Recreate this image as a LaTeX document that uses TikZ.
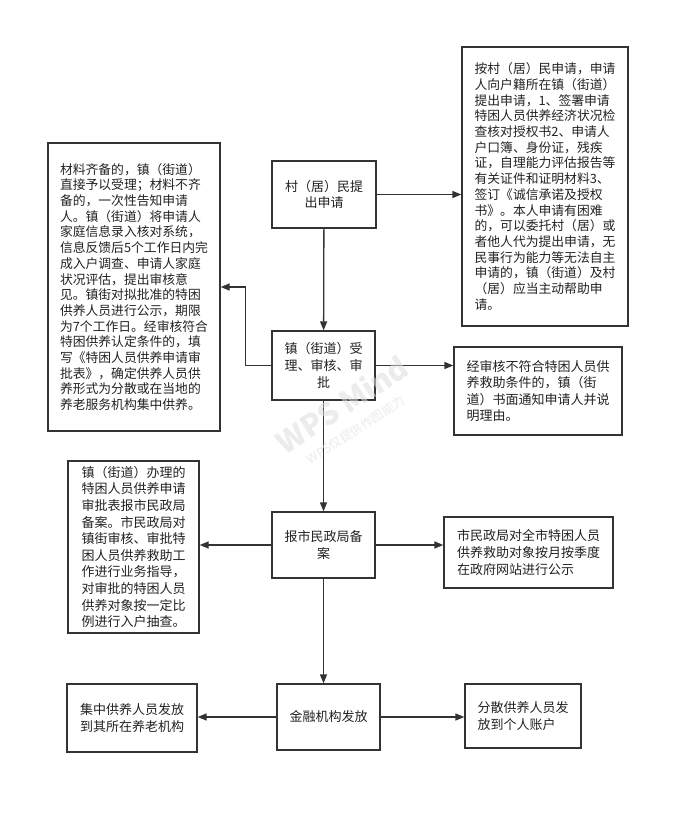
\documentclass[tikz,border=0pt]{standalone}
\usepackage{fontspec}
\setmainfont{Noto Sans CJK SC}
\usetikzlibrary{arrows.meta}
\definecolor{linec}{HTML}{333333}
\definecolor{txtc}{HTML}{222222}
\definecolor{wmc}{HTML}{DDDDDD}
\begin{document}
\begin{tikzpicture}[x=1pt,y=-1pt,
  box/.style={draw=linec,line width=1.3pt,fill=white,inner sep=0pt,text=txtc},
  big/.style={box,align=left,font=\fontsize{12.8pt}{15.7pt}\selectfont},
  mid/.style={box,align=left,font=\fontsize{13pt}{16.6pt}\selectfont},
  ctr/.style={box,align=center,font=\fontsize{13pt}{16.6pt}\selectfont},
  arr/.style={draw=linec,line width=1.3pt,-{Triangle[length=9pt,width=7pt]}},
  wm/.style={text=wmc,text opacity=0.55,rotate=33}]
\useasboundingbox (0,0) rectangle (688,821);
\fill[white] (0,0) rectangle (688,821);
% boxes
\node[ctr,minimum width=104pt,minimum height=67pt] (a) at (324,194.5) {村（居）民提\\出申请};
\node[big,minimum width=166pt,minimum height=279pt] (rt) at (545,186.5) {按村（居）民申请，申请\\人向户籍所在镇（街道）\\提出申请，1、签署申请\\特困人员供养经济状况检\\查核对授权书2、申请人\\户口簿、身份证，残疾\\证，自理能力评估报告等\\有关证件和证明材料3、\\签订《诚信承诺及授权\\书》。本人申请有困难\\的，可以委托村（居）或\\者他人代为提出申请，无\\民事行为能力等无法自主\\申请的，镇（街道）及村\\（居）应当主动帮助申\\请。};
\node[ctr,minimum width=103pt,minimum height=69pt] (b) at (323.5,365.5) {镇（街道）受\\理、审核、审\\批};
\node[big,minimum width=172pt,minimum height=288pt] (lt) at (134,287) {材料齐备的，镇（街道）\\直接予以受理；材料不齐\\备的，一次性告知申请\\人。镇（街道）将申请人\\家庭信息录入核对系统，\\信息反馈后5个工作日内完\\成入户调查、申请人家庭\\状况评估，提出审核意\\见。镇街对拟批准的特困\\供养人员进行公示，期限\\为7个工作日。经审核符合\\特困供养认定条件的，填\\写《特困人员供养申请审\\批表》，确定供养人员供\\养形式为分散或在当地的\\养老服务机构集中供养。};
\node[mid,minimum width=168pt,minimum height=88pt] (rm) at (538,391) {经审核不符合特困人员供\\养救助条件的，镇（街\\道）书面通知申请人并说\\明理由。};
\node[ctr,minimum width=103pt,minimum height=66pt] (c) at (323.5,545) {报市民政局备\\案};
\node[mid,minimum width=131pt,minimum height=172pt] (lm) at (133.5,547) {镇（街道）办理的\\特困人员供养申请\\审批表报市民政局\\备案。市民政局对\\镇街审核、审批特\\困人员供养救助工\\作进行业务指导，\\对审批的特困人员\\供养对象按一定比\\例进行入户抽查。};
\node[mid,minimum width=169pt,minimum height=71pt] (rm2) at (528.5,552.5) {市民政局对全市特困人员\\供养救助对象按月按季度\\在政府网站进行公示};
\node[ctr,minimum width=103pt,minimum height=66pt] (d) at (328.5,717) {金融机构发放};
\node[mid,minimum width=130pt,minimum height=68pt] (lb) at (132,718) {集中供养人员发放\\到其所在养老机构};
\node[mid,minimum width=116pt,minimum height=64pt] (rb) at (523,716) {分散供养人员发\\放到个人账户};
% connectors
\draw[arr] (a.east) -- (a.east -| rt.west);
\draw[arr] (a) -- (b);
\draw[arr] (b.west) -- ++(-26,0) |- (lt.east);
\draw[arr] (b.east) -- (b.east -| rm.west);
\draw[arr] (b) -- (c);
\draw[arr] (c.west) -- (c.west -| lm.east);
\draw[arr] (c.east) -- (c.east -| rm2.west);
\draw[arr] (c.south) -- (c.south |- d.north);
\draw[arr] (d.west) -- (d.west -| lb.east);
\draw[arr] (d.east) -- (d.east -| rb.west);
% watermark
\node[wm,font=\bfseries\fontsize{30pt}{30pt}\selectfont] (wm1) at (342,404) {WPS Mind};
\node[wm,font=\fontsize{12.5pt}{12.5pt}\selectfont] (wm2) at (356,430) {WPS仅提供作图能力};
\end{tikzpicture}
\end{document}
